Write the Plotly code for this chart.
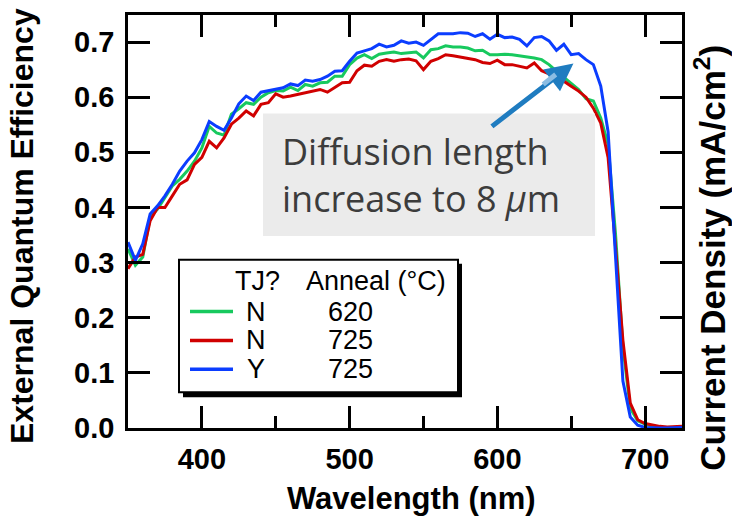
import plotly.graph_objects as go

wavelength = list(range(350, 730, 5))

eqe_green_N620 = [
    0.325, 0.295, 0.310, 0.382, 0.397, 0.418, 0.439, 0.451, 0.466, 0.484,
    0.508, 0.547, 0.535, 0.531, 0.569, 0.579, 0.590, 0.587, 0.600, 0.608,
    0.612, 0.611, 0.618, 0.612, 0.623, 0.620, 0.626, 0.627, 0.638, 0.638,
    0.659, 0.671, 0.677, 0.670, 0.678, 0.680, 0.682, 0.679, 0.680, 0.682,
    0.671, 0.686, 0.688, 0.693, 0.691, 0.691, 0.689, 0.684, 0.685, 0.677,
    0.677, 0.678, 0.677, 0.675, 0.674, 0.671, 0.668, 0.659, 0.647, 0.636,
    0.626, 0.614, 0.597, 0.593, 0.562, 0.514, 0.352, 0.147, 0.036, 0.013,
    0.007, 0.003, 0.001, 0.001, 0.001, 0.001,
]

eqe_red_N725 = [
    0.289, 0.310, 0.315, 0.376, 0.400, 0.400, 0.421, 0.442, 0.450, 0.478,
    0.491, 0.520, 0.508, 0.526, 0.551, 0.562, 0.575, 0.566, 0.587, 0.590,
    0.606, 0.600, 0.602, 0.605, 0.608, 0.611, 0.614, 0.609, 0.618, 0.626,
    0.627, 0.648, 0.658, 0.656, 0.665, 0.668, 0.665, 0.668, 0.669, 0.666,
    0.650, 0.665, 0.670, 0.677, 0.675, 0.673, 0.671, 0.668, 0.663, 0.661,
    0.667, 0.659, 0.659, 0.656, 0.653, 0.662, 0.648, 0.642, 0.636, 0.629,
    0.620, 0.611, 0.600, 0.580, 0.553, 0.490, 0.328, 0.159, 0.045, 0.015,
    0.008, 0.005, 0.003, 0.002, 0.003, 0.003,
]

eqe_blue_Y725 = [
    0.337, 0.304, 0.334, 0.388, 0.403, 0.421, 0.442, 0.466, 0.484, 0.499,
    0.523, 0.556, 0.547, 0.540, 0.562, 0.588, 0.602, 0.594, 0.609, 0.612,
    0.615, 0.617, 0.624, 0.621, 0.631, 0.629, 0.632, 0.638, 0.647, 0.648,
    0.665, 0.680, 0.684, 0.688, 0.696, 0.691, 0.694, 0.702, 0.698, 0.700,
    0.694, 0.704, 0.715, 0.715, 0.715, 0.717, 0.716, 0.710, 0.715, 0.705,
    0.714, 0.708, 0.709, 0.705, 0.693, 0.708, 0.710, 0.702, 0.685, 0.696,
    0.677, 0.679, 0.668, 0.659, 0.620, 0.537, 0.320, 0.085, 0.020, 0.005,
    0.001, 0.000, 0.000, 0.000, 0.001, 0.001,
]

series = [
    ("N", "620", eqe_green_N620, "#17c95e"),
    ("N", "725", eqe_red_N725, "#d00000"),
    ("Y", "725", eqe_blue_Y725, "#0b3dff"),
]

x_ticks = [400, 500, 600, 700]
y_ticks = [0.0, 0.1, 0.2, 0.3, 0.4, 0.5, 0.6, 0.7]

W, H = 732, 519
L, R, T, B = 128, 50, 13, 91
PW, PH = W - L - R, H - T - B


def px(x):
    return (x - L) / PW


def py(y):
    return (H - B - y) / PH


fig = go.Figure()
for tj, anneal, vals, col in series:
    fig.add_trace(go.Scatter(x=wavelength, y=vals, mode="lines",
                             line=dict(color=col, width=3),
                             name=f"{tj} {anneal}", showlegend=False))

tickfont = dict(family="Liberation Sans, Arial", size=29, color="black", weight="bold")
axis_common = dict(showline=True, linecolor="black", linewidth=2.5, mirror="ticks",
                   ticks="inside", ticklen=22, tickwidth=2.5, tickcolor="black",
                   showgrid=False, zeroline=False, tickfont=tickfont)

fig.update_xaxes(range=[350, 725], tickvals=x_ticks, ticklabelstandoff=3,
                 minor=dict(tickvals=[450, 550, 650], ticks="inside", ticklen=12,
                            tickwidth=2.5, tickcolor="black", showgrid=False),
                 **axis_common)
fig.update_yaxes(range=[0, 0.749], tickvals=y_ticks, tickformat=".1f",
                 ticklabelstandoff=5, **axis_common)

shapes = []
annotations = []

# Axis titles
titlefont = dict(family="Liberation Sans, Arial", size=31, color="black", weight="bold")
annotations.append(dict(text="Wavelength (nm)", xref="paper", yref="paper",
                        x=px(411), y=py(499), xanchor="center", yanchor="middle",
                        showarrow=False, font=titlefont))
annotations.append(dict(text="External Quantum Efficiency", xref="paper", yref="paper",
                        x=px(22), y=py(225), xanchor="center", yanchor="middle",
                        textangle=-90, showarrow=False,
                        font=dict(family="Liberation Sans, Arial", size=32, color="black",
                                  weight="bold")))
annotations.append(dict(text="Current Density (mA/cm<sup>2</sup>)", xref="paper", yref="paper",
                        x=px(710), y=py(257), xanchor="center", yanchor="middle",
                        textangle=-90, showarrow=False,
                        font=dict(family="Liberation Sans, Arial", size=35, color="black",
                                  weight="bold")))

# Gray annotation box
shapes.append(dict(type="rect", xref="paper", yref="paper", x0=px(263), x1=px(595),
                   y0=py(235), y1=py(112), fillcolor="#ebebeb", line=dict(width=0),
                   layer="above"))
notefont = dict(family="Open Sans, Noto Sans", size=36, color="#3c3c3c")
annotations.append(dict(text="Diffusion length<br>increase to 8 <i>μ</i>m",
                        xref="paper", yref="paper", align="left",
                        x=px(280), y=py(174), xanchor="left", yanchor="middle",
                        showarrow=False, font=notefont))
# Arrow
annotations.append(dict(x=651.5, y=0.661, xref="x", yref="y", ax=-83, ay=64,
                        axref="pixel", ayref="pixel", text="", showarrow=True,
                        arrowhead=2, arrowsize=1.1, arrowwidth=5, arrowcolor="#1f7cc0"))
annotations.append(dict(x=639.5, y=0.641, xref="x", yref="y", ax=-14, ay=11,
                        text="", showarrow=True, arrowhead=0, arrowwidth=5,
                        arrowcolor="#8bbde3"))

# Custom legend box with shadow
shapes.append(dict(type="rect", xref="paper", yref="paper", x0=px(183), x1=px(462),
                   y0=py(397), y1=py(263), fillcolor="black", line=dict(width=0),
                   layer="above"))
shapes.append(dict(type="rect", xref="paper", yref="paper", x0=px(179), x1=px(458),
                   y0=py(392), y1=py(259), fillcolor="white",
                   line=dict(color="black", width=2), layer="above"))
legfont = dict(family="Liberation Sans, Arial", size=27, color="black")
annotations.append(dict(text="TJ?", xref="paper", yref="paper", x=px(257), y=py(280),
                        xanchor="center", yanchor="middle", showarrow=False, font=legfont))
annotations.append(dict(text="Anneal (°C)", xref="paper", yref="paper", x=px(376), y=py(280),
                        xanchor="center", yanchor="middle", showarrow=False, font=legfont))
row_y = [311, 340, 369]
for (tj, anneal, vals, col), ry in zip(series, row_y):
    shapes.append(dict(type="line", xref="paper", yref="paper", x0=px(190), x1=px(233),
                       y0=py(ry), y1=py(ry), line=dict(color=col, width=3.5), layer="above"))
    annotations.append(dict(text=tj, xref="paper", yref="paper", x=px(256), y=py(ry),
                            xanchor="center", yanchor="middle", showarrow=False, font=legfont))
    annotations.append(dict(text=anneal, xref="paper", yref="paper", x=px(350), y=py(ry),
                            xanchor="center", yanchor="middle", showarrow=False, font=legfont))

fig.update_layout(width=W, height=H, margin=dict(l=L, r=R, t=T, b=B),
                  plot_bgcolor="white", paper_bgcolor="white",
                  shapes=shapes, annotations=annotations, showlegend=False)

fig.write_html("out.html")
